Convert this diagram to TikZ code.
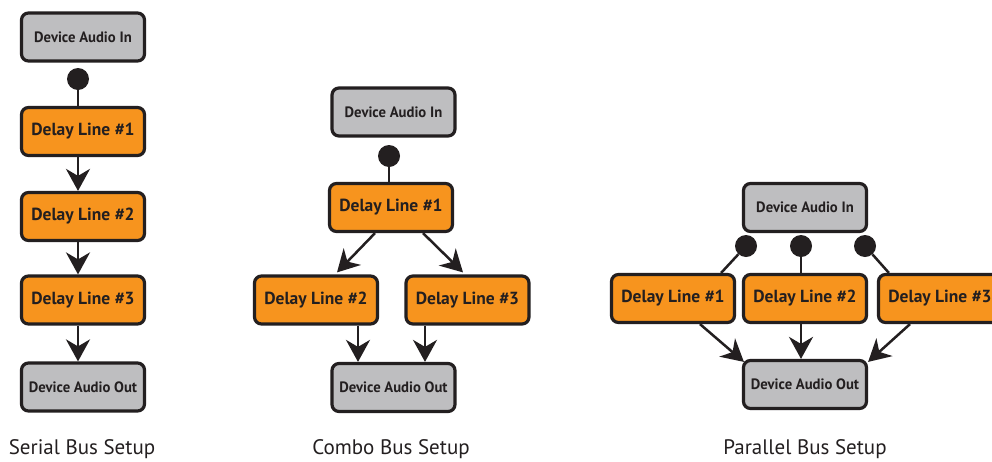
\documentclass[tikz,border=0pt]{standalone}
\usepackage{fontspec}
\setmainfont{PT Sans}
\newfontfamily\devfont{PT Sans Bold}[FakeStretch=0.98]
\usetikzlibrary{arrows.meta,calc}
\definecolor{dlorange}{RGB}{247,148,30}
\definecolor{devgrey}{RGB}{190,190,192}
\definecolor{ink}{RGB}{35,31,32}
\begin{document}
\begin{tikzpicture}[x=1pt,y=-1pt,
 box/.style={draw=ink, line width=3.2pt, rounded corners=7pt, minimum width=123pt, minimum height=48pt, inner sep=0pt, text=ink},
 delay/.style={box, fill=dlorange, font=\bfseries\fontsize{17.5}{17.5}\selectfont},
 dev/.style={box, fill=devgrey, font=\devfont\fontsize{15}{15}\selectfont},
 dotnode/.style={circle, fill=ink, minimum size=22pt, inner sep=0pt},
 link/.style={draw=ink, line width=2.5pt},
 arr/.style={link, -{Stealth[length=22pt,width=24pt,inset=7pt]}},
 caption/.style={font=\fontsize{21}{21}\selectfont, text=ink}]
\useasboundingbox (0,0) rectangle (992,461);
\fill[white] (0,0) rectangle (992,461);

% Serial
\node[dev] (sin) at (83,37) {Device Audio In};
\node[delay] (s1) at (83,131.5) {Delay Line \#1};
\node[delay] (s2) at (83,216.5) {Delay Line \#2};
\node[delay] (s3) at (83,300) {Delay Line \#3};
\node[dev] (sout) at (83,387) {Device Audio Out};
\node[dotnode] (sdot) at (78,79) {};
\draw[link] (sdot) -- (sdot |- s1.north);
\draw[arr] (s1.south -| sdot) -- (s2.north -| sdot);
\draw[arr] (s2.south -| sdot) -- (s3.north -| sdot);
\draw[arr] (s3.south -| sdot) -- (sout.north -| sdot);

% Combo
\node[dev] (cin) at (393.5,112) {Device Audio In};
\node[dotnode] (cdot) at (389,156) {};
\node[delay] (c1) at (391,207.5) {Delay Line \#1};
\node[delay] (c2) at (316,300) {Delay Line \#2};
\node[delay] (c3) at (467.5,300) {Delay Line \#3};
\node[dev] (cout) at (393.5,387.5) {Device Audio Out};
\draw[link] (cdot) -- (cdot |- c1.north);
\draw[arr] ($(c1.south)+(-16,0)$) -- ($(c2.north)+(21,-2)$);
\draw[arr] ($(c1.south)+(32,0)$) -- ($(c3.north)+(-4.5,-2)$);
\coordinate (c2x) at ($(c2.south)+(42,0)$);
\coordinate (c3x) at ($(c3.south)+(-42.5,0)$);
\draw[arr] (c2x) -- (c2x |- cout.north);
\draw[arr] (c3x) -- (c3x |- cout.north);

% Parallel
\node[dev] (pin) at (805,207.5) {Device Audio In};
\node[dotnode] (pd1) at (746,246) {};
\node[dotnode] (pd2) at (801,246) {};
\node[dotnode] (pd3) at (865,246) {};
\node[delay] (p1) at (673,298.5) {Delay Line \#1};
\node[delay] (p2) at (805,298.5) {Delay Line \#2};
\node[delay] (p3) at (940,298.5) {Delay Line \#3};
\node[dev] (pout) at (805,384.5) {Device Audio Out};
\draw[link] (pd1) -- ($(p1.north east)+(-15,0)$);
\draw[link] (pd2) -- (pd2 |- p2.north);
\draw[link] (pd3) -- ($(p3.north west)+(12,0)$);
\draw[arr] ($(p1.south)+(27,0)$) -- ($(pout.north west)+(2,3)$);
\draw[arr] (p2.south -| pd2) -- (pout.north -| pd2);
\draw[arr] ($(p3.south)+(-30,0)$) -- ($(pout.north east)+(0,3)$);

% Captions
\node[caption] (t1) at (82,449) {Serial Bus Setup};
\node[caption] (t2) at (391,449) {Combo Bus Setup};
\node[caption] (t3) at (805,449) {Parallel Bus Setup};
\end{tikzpicture}
\end{document}
